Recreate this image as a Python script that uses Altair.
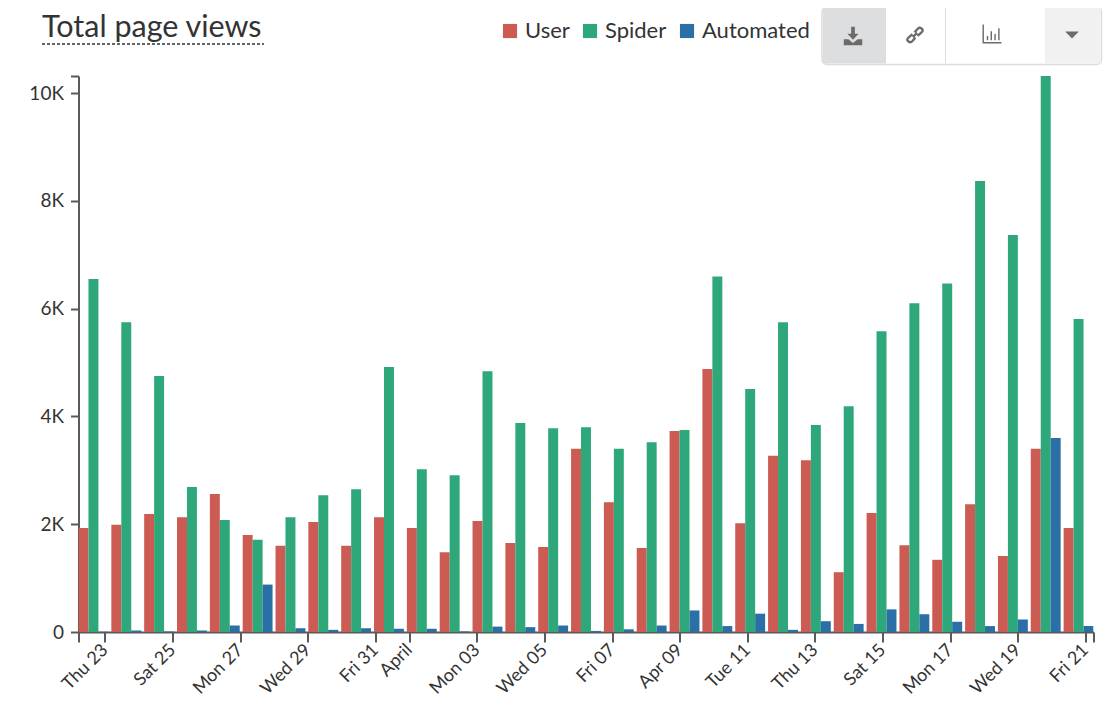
import altair as alt
import pandas as pd

FONT = "Lato"
TEXT = "#333333"
AXIS = "#5a5a5a"

chart_title = "Total page views"
series_names = ["User", "Spider", "Automated"]
series_colors = ["#CB5B53", "#2EA87A", "#2A6FA5"]

user = [1930, 1990, 2190, 2130, 2560, 1800, 1600, 2040, 1600, 2130, 1930, 1480, 2060, 1650, 1580, 3400,
        2410, 1560, 3730, 4880, 2020, 3270, 3190, 1110, 2210, 1610, 1340, 2370, 1410, 3400, 1930]
spider = [6550, 5750, 4750, 2690, 2080, 1710, 2130, 2540, 2650, 4920, 3020, 2910, 4840, 3880, 3780, 3800,
          3400, 3520, 3750, 6600, 4510, 5750, 3840, 4190, 5580, 6100, 6470, 8370, 7370, 10320, 5810]
automated = [5, 30, 10, 30, 120, 880, 70, 40, 70, 60, 60, 10, 100, 90, 120, 20,
             50, 120, 400, 110, 340, 40, 200, 150, 420, 330, 190, 110, 230, 3600, 110]

tick_days = [0, 2, 4, 6, 8, 9, 11, 13, 15, 17, 19, 21, 23, 25, 27, 29]
tick_labels = ["Thu 23", "Sat 25", "Mon 27", "Wed 29", "Fri 31", "April", "Mon 03", "Wed 05",
               "Fri 07", "Apr 09", "Tue 11", "Thu 13", "Sat 15", "Mon 17", "Wed 19", "Fri 21"]
x_domain = [-0.78, 29.24]
y_domain = [0, 10320]
y_ticks = [0, 2000, 4000, 6000, 8000, 10000, 10320]

# Plot-area placement on the page
LEFT, TOP, W, H = 78.5, 76, 1015, 556
px = lambda v: v - LEFT
py = lambda v: v - TOP

rows = []
for name, vals in zip(series_names, [user, spider, automated]):
    for i, v in enumerate(vals):
        rows.append({"day": i, "series": name, "views": v})
df = pd.DataFrame(rows)

bars = alt.Chart(df).mark_bar(clip=True).encode(
    x=alt.X("day:O", axis=None, scale=alt.Scale(paddingInner=0.09, paddingOuter=0.0, align=0)),
    xOffset=alt.XOffset("series:N", sort=series_names),
    y=alt.Y("views:Q",
            scale=alt.Scale(domain=y_domain, nice=False),
            axis=alt.Axis(values=y_ticks, title=None, grid=False, domainColor=AXIS, domainWidth=2,
                          tickColor=AXIS, tickWidth=2, tickSize=8, labelFont=FONT, labelFontSize=19,
                          labelColor=TEXT, labelPadding=7,
                          labelExpr="datum.value > 10000 ? '' : (datum.value == 0 ? '0' : (datum.value / 1000) + 'K')")),
    color=alt.Color("series:N",
                    scale=alt.Scale(domain=series_names, range=series_colors),
                    legend=alt.Legend(title=None, orient="none", legendX=px(499), legendY=py(20),
                                      direction="horizontal", columns=3, symbolType="square", symbolSize=200,
                                      symbolStrokeWidth=0, symbolOpacity=1, labelFont=FONT, labelFontSize=22,
                                      labelColor=TEXT, columnPadding=9, labelOffset=4)),
)

labels_js = "[" + ",".join(f"'{t}'" for t in tick_labels) + "]"
days_js = "[" + ",".join(str(d) for d in tick_days) + "]"
all_ticks = [x_domain[0]] + tick_days + [x_domain[1]]
x_axis = alt.Chart(pd.DataFrame({"d": all_ticks})).mark_point(opacity=0).encode(
    x=alt.X("d:Q", scale=alt.Scale(domain=x_domain, nice=False, zero=False),
            axis=alt.Axis(values=all_ticks, title=None, grid=False, domainColor=AXIS, domainWidth=2,
                          tickColor=AXIS, tickWidth=2, tickSize=10, labelAngle=-45, labelAlign="right",
                          labelBaseline="middle", labelFont=FONT, labelFontSize=18, labelColor=TEXT,
                          labelPadding=5, labelOverlap=False, labelFlush=False,
                          labelExpr=f"{labels_js}[indexof({days_js}, datum.value)] || ''")),
)


def rect(x0, x1, y0, y1, fill, stroke=None, radius=0):
    kw = {"fill": fill, "cornerRadius": radius, "clip": False}
    if stroke:
        kw.update(stroke=stroke, strokeWidth=1.5)
    return alt.Chart().mark_rect(**kw).encode(
        x=alt.value(px(x0)), x2=alt.value(px(x1)), y=alt.value(py(y0)), y2=alt.value(py(y1)))


def icon(cx, cy, path, size, **kw):
    args = dict(shape=path, size=size, filled=True, fill="#6b6b6b", strokeWidth=0, opacity=1, clip=False)
    args.update(kw)
    return alt.Chart().mark_point(**args).encode(x=alt.value(px(cx)), y=alt.value(py(cy)))


def outline_icon(cx, cy, path, size):
    return alt.Chart().mark_point(shape=path, size=size, filled=False, stroke="#6b6b6b", strokeWidth=2.4,
                                  opacity=1, clip=False).encode(x=alt.value(px(cx)), y=alt.value(py(cy)))


title = alt.Chart().mark_text(text=chart_title, font=FONT, fontSize=30.5, color=TEXT, align="left",
                              baseline="alphabetic", clip=False).encode(
    x=alt.value(px(42)), y=alt.value(py(37)))

underline = alt.Chart().mark_rule(color="#333333", strokeDash=[3, 2], strokeWidth=1.5, clip=False).encode(
    x=alt.value(px(42)), x2=alt.value(px(264)), y=alt.value(py(44)))

toolbar = [
    rect(822, 1101.5, 7, 64.5, "#ffffff", "#dcdcdc", 5),
    rect(823, 885, 8, 63.5, "#dcdee0"),
    rect(1045, 1100.5, 8, 63.5, "#f1f1f1"),
    rect(945, 946, 8, 63.5, "#dcdcdc"),
    rect(885, 886, 8, 63.5, "#dcdcdc"),
    icon(853, 36,
         "M-0.2,-1 L0.2,-1 L0.2,-0.25 L0.6,-0.25 L0,0.4 L-0.6,-0.25 L-0.2,-0.25 Z "
         "M-1,0.35 L-0.5,0.35 L0,0.75 L0.5,0.35 L1,0.35 L1,1 L-1,1 Z", 340),
    outline_icon(915, 35,
                 "M-0.05,-0.3 L0.35,-0.75 Q0.55,-0.95 0.8,-0.7 Q1,-0.5 0.75,-0.3 L0.3,0.1 "
                 "M0.05,0.3 L-0.35,0.75 Q-0.55,0.95 -0.8,0.7 Q-1,0.5 -0.75,0.3 L-0.3,-0.1 "
                 "M-0.25,0.25 L0.25,-0.25", 300),
    icon(992, 34,
         "M-1,-1 L-0.85,-1 L-0.85,0.85 L1,0.85 L1,1 L-1,1 Z "
         "M-0.55,0.2 L-0.4,0.2 L-0.4,0.65 L-0.55,0.65 Z M-0.15,-0.3 L0,-0.3 L0,0.65 L-0.15,0.65 Z "
         "M0.25,0 L0.4,0 L0.4,0.65 L0.25,0.65 Z M0.65,-0.6 L0.8,-0.6 L0.8,0.65 L0.65,0.65 Z", 360),
    icon(1072, 35, "M-1,-0.5 L1,-0.5 L0,0.5 Z", 190),
]

chart = alt.layer(
    *toolbar, title, underline, bars, x_axis,
).resolve_scale(x="independent").properties(
    width=W,
    height=H,
    padding={"left": LEFT - 8, "top": TOP - 8, "right": 10, "bottom": 66},
    autosize=alt.AutoSizeParams(type="none"),
).configure_view(stroke=None)

chart.save("out.html", embed_options={"renderer": "svg", "actions": False})
